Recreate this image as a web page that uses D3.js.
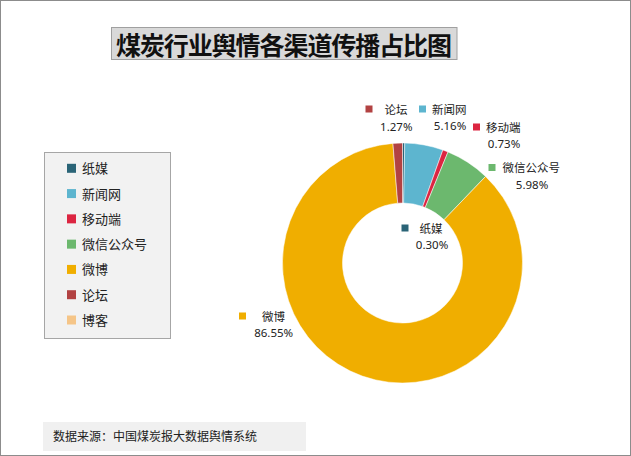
<!DOCTYPE html>
<html><head><meta charset="utf-8">
<script src="https://cdn.jsdelivr.net/npm/d3@7"></script>
<style>
html,body{margin:0;padding:0;background:#fff;}
svg{display:block;font-family:"Noto Sans","Noto Sans CJK SC",sans-serif;}
</style></head>
<body>
<svg id="chart" width="631" height="456"></svg>
<script>
const title = "煤炭行业舆情各渠道传播占比图";
const categories = ["纸媒","新闻网","移动端","微信公众号","微博","论坛","博客"];
const values = [0.30, 5.16, 0.73, 5.98, 86.55, 1.27, 0];
const colors = ["#2a6477","#5db5cf","#dc2541","#6cb86e","#f0ae00","#b24242","#f5c588"];
const source = "数据来源：中国煤炭报大数据舆情系统";

// label layout (text start / percent centre), not data
const labelLayout = {
  "纸媒":     {tx:419.5, ty:228,   px:432,   py:244,   gap:11},
  "新闻网":   {tx:432,   ty:109,   px:450,   py:125.5, gap:6},
  "移动端":   {tx:486,   ty:127,   px:504,   py:143.5, gap:6},
  "微信公众号":{tx:502.5, ty:167.5, px:532,   py:184,   gap:7},
  "微博":     {tx:262,   ty:316,   px:273.7, py:332.5, gap:16},
  "论坛":     {tx:384.5, ty:109,   px:396.3, py:126,   gap:12}
};

const svg = d3.select("#chart");
svg.append("rect").attr("x",0.5).attr("y",0.5).attr("width",630).attr("height",455)
  .attr("fill","#fff").attr("stroke","#8c8c8c");

// title
svg.append("rect").attr("x",111.5).attr("y",27.5).attr("width",345.5).attr("height",32)
  .attr("fill","#d9d9d9").attr("stroke","#a0a0a0");
svg.append("text").attr("x",116).attr("y",43.5)
  .attr("dominant-baseline","central").attr("font-family","Noto Sans CJK SC")
  .attr("font-size",25).attr("textLength",336).attr("lengthAdjust","spacing")
  .attr("font-weight","bold").attr("fill","#111")
  .text(title);

// legend
const color = d3.scaleOrdinal().domain(categories).range(colors);
svg.append("rect").attr("x",44.5).attr("y",152.5).attr("width",126).attr("height",186)
  .attr("fill","#f2f2f2").attr("stroke","#a6a6a6");
const ly = d3.scalePoint().domain(categories).range([168.3, 320]);
const lg = svg.append("g").selectAll("g").data(categories).join("g")
  .attr("transform", d => `translate(0,${ly(d)})`);
lg.append("rect").attr("x",67).attr("y",-4.5).attr("width",9).attr("height",9).attr("fill", d => color(d));
lg.append("text").attr("x",82).attr("y",0).attr("dominant-baseline","central")
  .attr("font-size",13).attr("fill","#222").text(d => d);

// donut
const cx = 402.5, cy = 263;
const pie = d3.pie().sort(null).value(d => d.v);
const data = categories.map((c,i) => ({c, v: values[i]}));
const arcs = pie(data);
const arc = d3.arc().innerRadius(60).outerRadius(120);
const g = svg.append("g").attr("transform",`translate(${cx},${cy})`);
g.selectAll("path").data(arcs).join("path")
  .attr("d", arc).attr("fill", d => color(d.data.c))
  .attr("stroke","#fff").attr("stroke-width", d => d.data.v > 0 ? 0.5 : 0);

// data labels
const labs = svg.append("g").selectAll("g").data(arcs.filter(d => labelLayout[d.data.c])).join("g");
labs.each(function(d){
  const L = labelLayout[d.data.c];
  const s = d3.select(this);
  s.append("rect").attr("x", L.tx - L.gap - 7).attr("y", L.ty - 3.5).attr("width",7).attr("height",7)
    .attr("fill", color(d.data.c));
  s.append("text").attr("x", L.tx).attr("y", L.ty).attr("dominant-baseline","central")
    .attr("font-size",11.5).attr("fill","#222").text(d.data.c);
  s.append("text").attr("x", L.px).attr("y", L.py).attr("dominant-baseline","central")
    .attr("text-anchor","middle").attr("font-size",11.5).attr("fill","#222")
    .text(d.data.v.toFixed(2) + "%");
});

// source
svg.append("rect").attr("x",43).attr("y",422).attr("width",263).attr("height",29).attr("fill","#f0f0f0");
svg.append("text").attr("x",53).attr("y",436).attr("dominant-baseline","central")
  .attr("font-size",12).attr("fill","#222").text(source);
</script>
</body></html>
